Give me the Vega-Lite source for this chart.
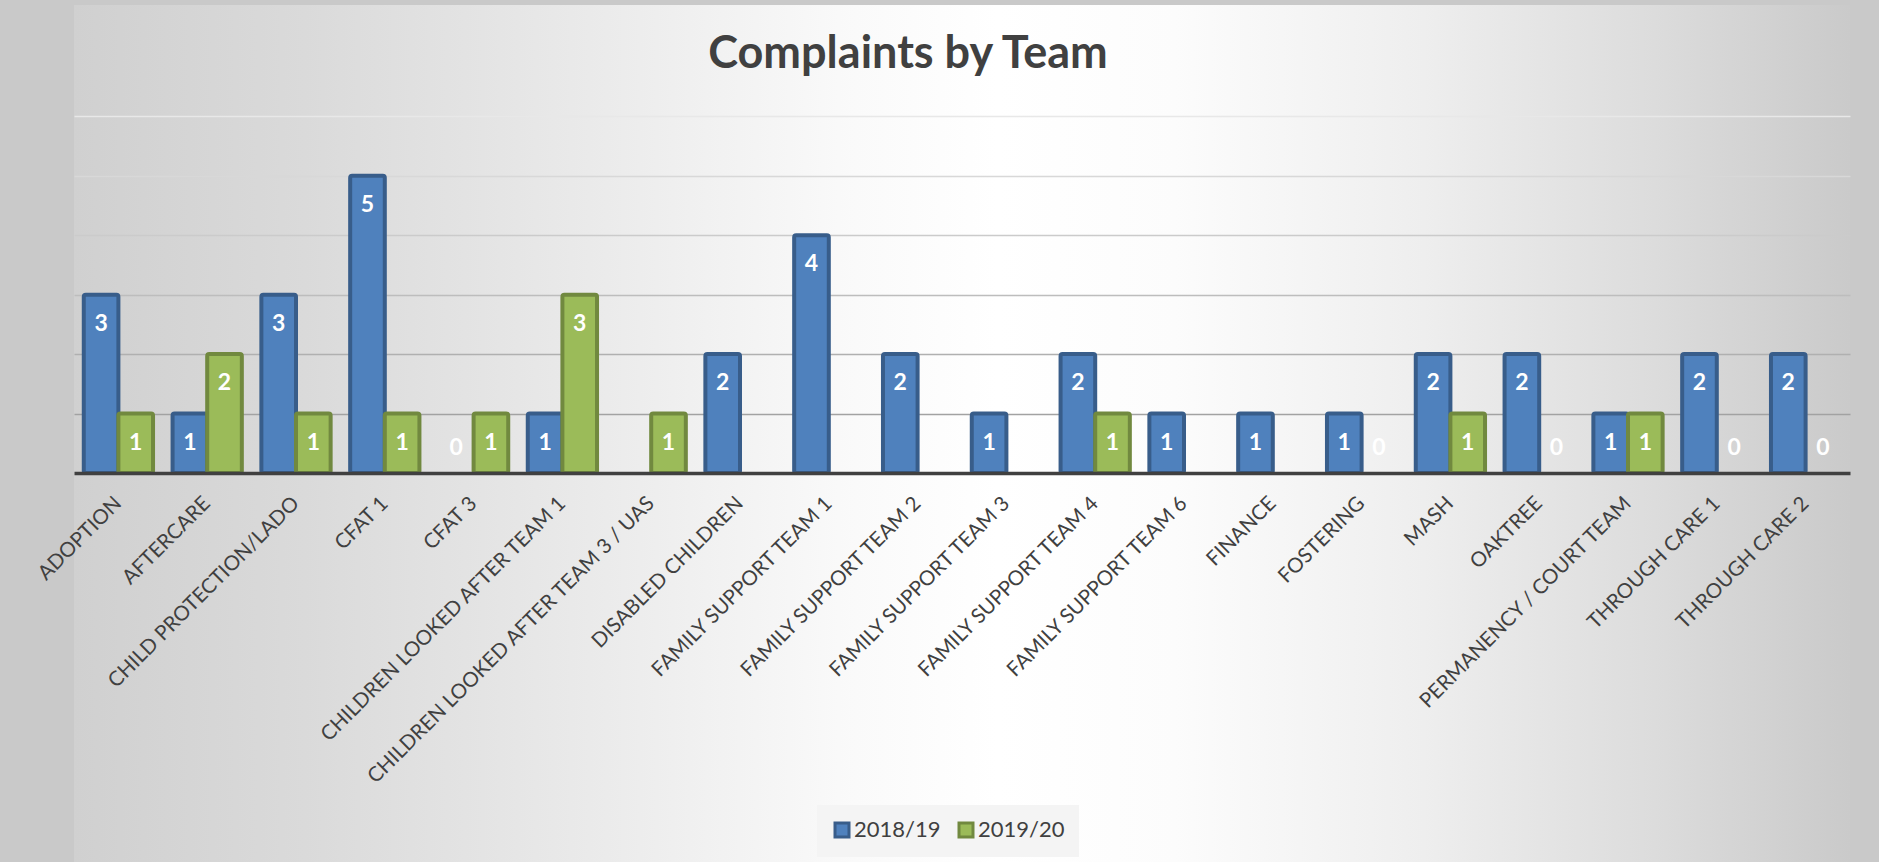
{
  "$schema": "https://vega.github.io/schema/vega-lite/v6.json",
  "width": 1776,
  "height": 857,
  "autosize": {"type": "none"},
  "padding": {"left": 74, "top": 5, "right": 29, "bottom": 0},
  "background": "#c9c9c9",
  "view": {
    "stroke": null,
    "fill": {
      "gradient": "linear",
      "x1": 0, "y1": 0.5, "x2": 1, "y2": 0.5,
      "stops": [
        {"offset": 0, "color": "#d0d0d0"},
        {"offset": 0.13, "color": "#dadada"},
        {"offset": 0.3, "color": "#ebebeb"},
        {"offset": 0.44, "color": "#fafafa"},
        {"offset": 0.52, "color": "#ffffff"},
        {"offset": 0.62, "color": "#fcfcfc"},
        {"offset": 0.76, "color": "#eeeeee"},
        {"offset": 0.89, "color": "#dcdcdc"},
        {"offset": 1, "color": "#cacaca"}
      ]
    }
  },
  "title": {
    "text": "Complaints by Team",
    "font": "Lato",
    "fontSize": 45,
    "fontWeight": "bold",
    "color": "#404040",
    "anchor": "middle",
    "offset": -72,
    "dx": -54
  },
  "data": {
    "values": [
      {"team": "ADOPTION", "year": "2018/19", "value": 3},
      {"team": "ADOPTION", "year": "2019/20", "value": 1},
      {"team": "AFTERCARE", "year": "2018/19", "value": 1},
      {"team": "AFTERCARE", "year": "2019/20", "value": 2},
      {"team": "CHILD PROTECTION/LADO", "year": "2018/19", "value": 3},
      {"team": "CHILD PROTECTION/LADO", "year": "2019/20", "value": 1},
      {"team": "CFAT 1", "year": "2018/19", "value": 5},
      {"team": "CFAT 1", "year": "2019/20", "value": 1},
      {"team": "CFAT 3", "year": "2018/19", "value": 0},
      {"team": "CFAT 3", "year": "2019/20", "value": 1},
      {"team": "CHILDREN LOOKED AFTER TEAM 1", "year": "2018/19", "value": 1},
      {"team": "CHILDREN LOOKED AFTER TEAM 1", "year": "2019/20", "value": 3},
      {"team": "CHILDREN LOOKED AFTER TEAM 3 / UAS", "year": "2019/20", "value": 1},
      {"team": "DISABLED CHILDREN", "year": "2018/19", "value": 2},
      {"team": "FAMILY SUPPORT TEAM 1", "year": "2018/19", "value": 4},
      {"team": "FAMILY SUPPORT TEAM 2", "year": "2018/19", "value": 2},
      {"team": "FAMILY SUPPORT TEAM 3", "year": "2018/19", "value": 1},
      {"team": "FAMILY SUPPORT TEAM 4", "year": "2018/19", "value": 2},
      {"team": "FAMILY SUPPORT TEAM 4", "year": "2019/20", "value": 1},
      {"team": "FAMILY SUPPORT TEAM 6", "year": "2018/19", "value": 1},
      {"team": "FINANCE", "year": "2018/19", "value": 1},
      {"team": "FOSTERING", "year": "2018/19", "value": 1},
      {"team": "FOSTERING", "year": "2019/20", "value": 0},
      {"team": "MASH", "year": "2018/19", "value": 2},
      {"team": "MASH", "year": "2019/20", "value": 1},
      {"team": "OAKTREE", "year": "2018/19", "value": 2},
      {"team": "OAKTREE", "year": "2019/20", "value": 0},
      {"team": "PERMANENCY / COURT TEAM", "year": "2018/19", "value": 1},
      {"team": "PERMANENCY / COURT TEAM", "year": "2019/20", "value": 1},
      {"team": "THROUGH CARE 1", "year": "2018/19", "value": 2},
      {"team": "THROUGH CARE 1", "year": "2019/20", "value": 0},
      {"team": "THROUGH CARE 2", "year": "2018/19", "value": 2},
      {"team": "THROUGH CARE 2", "year": "2019/20", "value": 0}
    ]
  },
  "encoding": {
    "x": {
      "field": "team",
      "type": "nominal",
      "sort": null,
      "scale": {"paddingInner": 0.22, "paddingOuter": 0.11},
      "axis": {
        "title": null,
        "orient": "bottom",
        "offset": -389,
        "labelAngle": -45,
        "labelAlign": "right",
        "labelBaseline": "middle",
        "labelPadding": 27,
        "ticks": false,
        "tickSize": 0,
        "labelFont": "Lato",
        "labelFontSize": 20.5,
        "labelColor": "#404040",
        "labelLimit": 0,
        "labelOverlap": false,
        "labelBound": false,
        "labelFlush": false,
        "domainColor": "#404040",
        "domainWidth": 3.5,
        "grid": false,
        "zindex": 1
      }
    },
    "xOffset": {
      "field": "year",
      "type": "nominal",
      "scale": {"domain": ["2018/19", "2019/20"], "paddingInner": 0, "paddingOuter": 0}
    },
    "y": {
      "field": "value",
      "type": "quantitative",
      "scale": {"domain": [-6.543, 7.872], "nice": false, "zero": false},
      "axis": {
        "title": null,
        "values": [1, 2, 3, 4, 5, 6],
        "labels": false,
        "ticks": false,
        "domain": false,
        "grid": true,
        "gridWidth": 1.5,
        "gridOpacity": 1,
        "zindex": 0,
        "gridColor": {
          "condition": [
            {"test": "datum.value >= 6", "value": "#e8e8e8"},
            {"test": "datum.value >= 5", "value": "#d8d8d8"},
            {"test": "datum.value >= 4", "value": "#cbcbcb"},
            {"test": "datum.value >= 3", "value": "#bdbdbd"},
            {"test": "datum.value >= 2", "value": "#b0b0b0"}
          ],
          "value": "#a2a2a2"
        }
      }
    }
  },
  "layer": [
    {
      "transform": [{"filter": "datum.value > 0"}],
      "mark": {"type": "bar", "strokeWidth": 4, "cornerRadius": 2},
      "encoding": {
        "y2": {"datum": 0},
        "fill": {
          "field": "year",
          "type": "nominal",
          "scale": {"domain": ["2018/19", "2019/20"], "range": ["#4F81BD", "#9BBB59"]},
          "legend": {
            "title": null,
            "orient": "none",
            "legendX": 743,
            "legendY": 800,
            "direction": "horizontal",
            "symbolType": "square",
            "symbolSize": 196,
            "symbolStrokeWidth": 3,
            "labelFont": "Lato",
            "labelFontSize": 22,
            "labelColor": "#404040",
            "labelOffset": 1,
            "columnPadding": 12,
            "padding": 14,
            "fillColor": "#f4f4f4"
          }
        },
        "stroke": {
          "field": "year",
          "type": "nominal",
          "scale": {"domain": ["2018/19", "2019/20"], "range": ["#385D8A", "#71893F"]},
          "legend": {
            "title": null,
            "orient": "none",
            "legendX": 743,
            "legendY": 800,
            "direction": "horizontal",
            "symbolType": "square",
            "symbolSize": 196,
            "symbolStrokeWidth": 3,
            "labelFont": "Lato",
            "labelFontSize": 22,
            "labelColor": "#404040",
            "labelOffset": 1,
            "columnPadding": 12,
            "padding": 14,
            "fillColor": "#f4f4f4"
          }
        }
      }
    },
    {
      "transform": [{"filter": "datum.value > 0"}],
      "mark": {"type": "text", "baseline": "middle", "align": "center", "dy": 29, "font": "Lato", "fontSize": 23, "fontWeight": "bold", "color": "#ffffff"},
      "encoding": {"text": {"field": "value", "type": "quantitative"}}
    },
    {
      "transform": [{"filter": "datum.value == 0"}],
      "mark": {"type": "text", "baseline": "middle", "align": "center", "dy": -25, "font": "Lato", "fontSize": 23, "fontWeight": "bold", "color": "#ffffff"},
      "encoding": {"text": {"field": "value", "type": "quantitative"}}
    }
  ]
}
